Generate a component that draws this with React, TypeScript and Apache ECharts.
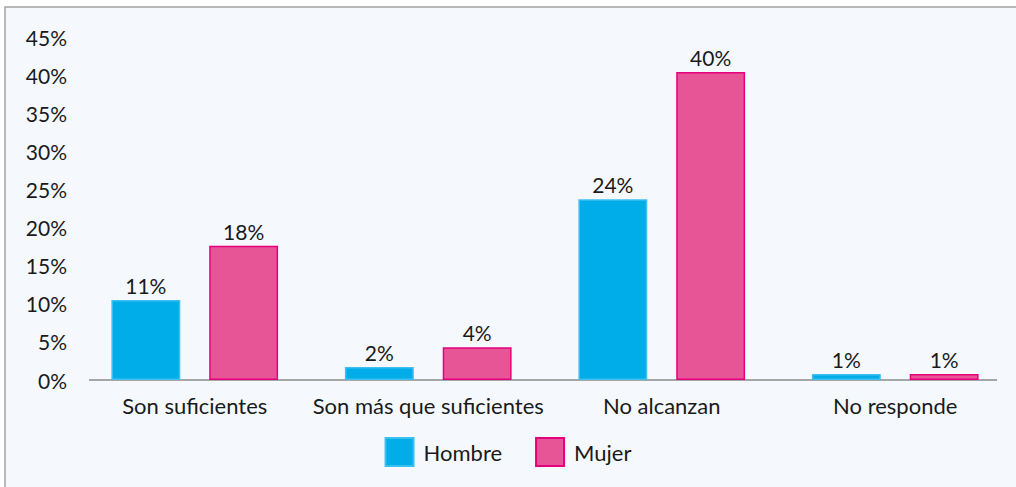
import React, { useEffect, useRef } from "react";
import * as echarts from "echarts";

const categories = ["Son suficientes", "Son más que suficientes", "No alcanzan", "No responde"];
const hombre = [10.5, 1.7, 23.7, 0.8];
const mujer = [17.6, 4.3, 40.4, 0.8];
const hombreLabels = ["11%", "2%", "24%", "1%"];
const mujerLabels = ["18%", "4%", "40%", "1%"];

const FONT = "Lato";
const TXT = "#1a1a1a";

export default function App() {
  const ref = useRef<HTMLDivElement>(null);
  useEffect(() => {
    const chart = echarts.init(ref.current!, null, { renderer: "svg" });
    chart.setOption({
      animation: false,
      textStyle: { fontFamily: FONT },
      graphic: [
        {
          type: "rect",
          z: -100,
          silent: true,
          shape: { x: 5, y: 7, width: 1100, height: 600 },
          style: { fill: "#F5F9FE", stroke: "#A3A3A3", lineWidth: 1.5 },
        },
        {
          type: "line",
          z: 1,
          silent: true,
          shape: { x1: 89, y1: 380, x2: 997, y2: 380 },
          style: { stroke: "#A6A6A6", lineWidth: 2 },
        },
      ],
      grid: { left: 78, right: 4, top: 37, bottom: 107 },
      legend: {
        bottom: 15,
        left: "center",
        itemWidth: 28,
        itemHeight: 28,
        itemGap: 33,
        icon: "rect",
        textStyle: { fontFamily: FONT, fontSize: 22, color: TXT, padding: [0, 0, 0, 5] },
        data: ["Hombre", "Mujer"],
      },
      xAxis: {
        type: "category",
        data: categories,
        axisLine: { show: false },
        axisTick: { show: false },
        axisLabel: { interval: 0, fontFamily: FONT, fontSize: 22, color: TXT, margin: 14 },
      },
      yAxis: {
        type: "value",
        min: 0,
        max: 45,
        interval: 5,
        splitLine: { show: false },
        axisLine: { show: false },
        axisTick: { show: false },
        axisLabel: {
          fontFamily: FONT,
          fontSize: 21,
          color: TXT,
          margin: 11,
          formatter: (v: number) => `${v}%`,
        },
      },
      series: [
        {
          name: "Hombre",
          type: "bar",
          data: hombre,
          barWidth: "29.5%",
          barGap: "42%",
          itemStyle: { color: "#00ADE8", borderColor: "#3DBFF0", borderWidth: 1.5 },
          label: {
            show: true,
            position: "top",
            distance: 4,
            fontFamily: FONT,
            fontSize: 21,
            color: TXT,
            formatter: (p: any) => hombreLabels[p.dataIndex],
          },
        },
        {
          name: "Mujer",
          type: "bar",
          data: mujer,
          barWidth: "29.5%",
          itemStyle: { color: "#E85596", borderColor: "#E6007E", borderWidth: 1.5 },
          label: {
            show: true,
            position: "top",
            distance: 4,
            fontFamily: FONT,
            fontSize: 21,
            color: TXT,
            formatter: (p: any) => mujerLabels[p.dataIndex],
          },
        },
      ],
    });
    return () => chart.dispose();
  }, []);
  return (
    <div
      ref={ref}
      style={{ position: "fixed", left: 0, top: 0, width: 1016, height: 487, background: "#ffffff" }}
    />
  );
}
